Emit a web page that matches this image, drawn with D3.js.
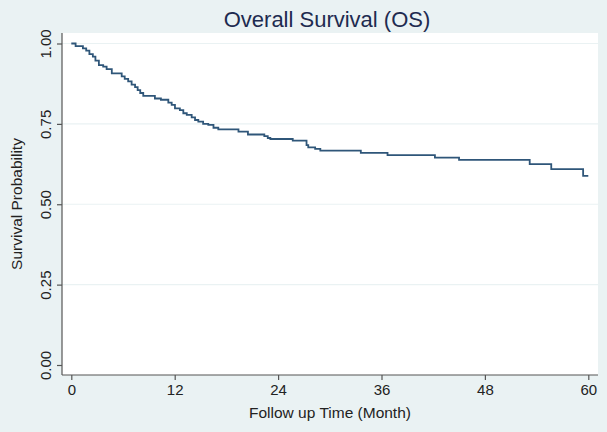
<!DOCTYPE html>
<html>
<head>
<meta charset="utf-8">
<script src="https://cdn.jsdelivr.net/npm/d3@7"></script>
<style>
  html, body { margin: 0; padding: 0; background: #eaf2f3; }
  svg { display: block; font-family: "Liberation Sans", Arial, sans-serif; }
</style>
</head>
<body>
<div id="chart"></div>
<script>
// Kaplan-Meier estimate (month, survival after the step)
var months = [0, 0.5, 1.35, 1.73, 2.1, 2.5, 2.8, 3.2, 3.7, 4.1, 4.7, 5.85, 6.2, 6.6, 7.0, 7.4, 7.7, 8.0, 8.35,
              9.7, 10.4, 11.26, 11.65, 12.03, 12.6, 13.0, 13.4, 13.97, 14.36, 14.74, 15.3, 15.9, 16.5, 17.06,
              19.4, 20.5, 22.4, 22.8, 23.1, 25.7, 27.3, 27.5, 28.3, 28.9, 33.6, 36.7, 42.2, 45.0, 53.2, 55.7, 59.4];
var survival = [1.000, 0.992, 0.985, 0.978, 0.967, 0.959, 0.947, 0.933, 0.928, 0.920, 0.907, 0.898, 0.890, 0.882, 0.872, 0.864, 0.855, 0.846, 0.837,
                0.829, 0.825, 0.816, 0.809, 0.798, 0.793, 0.783, 0.778, 0.770, 0.762, 0.757, 0.750, 0.747, 0.738, 0.733,
                0.726, 0.717, 0.712, 0.706, 0.703, 0.698, 0.684, 0.677, 0.672, 0.667, 0.660, 0.653, 0.645, 0.638, 0.625, 0.609, 0.588];
var lastMonth = 60;

var xTicks = [0, 12, 24, 36, 48, 60];
var yTicks = [0, 0.25, 0.5, 0.75, 1];
var yTickLabels = ["0.00", "0.25", "0.50", "0.75", "1.00"];

var w = 607, h = 432;
var plot = { left: 62, right: 598, top: 33, bottom: 375 };

var x = d3.scaleLinear().domain([0, 60]).range([71.3, 588.3]);
var y = d3.scaleLinear().domain([0, 1]).range([365, 43.5]);

var svg = d3.select("#chart").append("svg")
    .attr("width", w)
    .attr("height", h);

svg.append("rect").attr("width", w).attr("height", h).attr("fill", "#eaf2f3");

// plot region
svg.append("rect")
    .attr("x", plot.left).attr("y", plot.top)
    .attr("width", plot.right - plot.left).attr("height", plot.bottom - plot.top)
    .attr("fill", "#ffffff");

// grid lines
svg.append("g").selectAll("line")
    .data(yTicks.filter(function (d) { return d > 0; }))
    .enter().append("line")
    .attr("x1", plot.left).attr("x2", plot.right)
    .attr("y1", function (d) { return y(d); })
    .attr("y2", function (d) { return y(d); })
    .attr("stroke", "#eaf2f3")
    .attr("stroke-width", 1.2);

// y axis
var yAxis = d3.axisLeft(y)
    .tickValues(yTicks)
    .tickSize(5)
    .tickFormat(function (d, i) { return yTickLabels[i]; });

var gy = svg.append("g")
    .attr("transform", "translate(" + plot.left + ",0)")
    .call(yAxis);
gy.select(".domain").attr("d", "M0," + plot.top + "V" + plot.bottom);
gy.selectAll("text")
    .attr("transform", "translate(-11,0) rotate(-90)")
    .attr("x", 0).attr("y", 0).attr("dy", "0")
    .attr("text-anchor", "middle");

// x axis
var xAxis = d3.axisBottom(x)
    .tickValues(xTicks)
    .tickSize(5)
    .tickPadding(4);

var gx = svg.append("g")
    .attr("transform", "translate(0," + plot.bottom + ")")
    .call(xAxis);
gx.select(".domain").attr("d", "M" + plot.left + ",0H" + plot.right);

[gx, gy].forEach(function (g) {
    g.select(".domain").attr("stroke", "#555").attr("stroke-width", 1.2);
    g.selectAll(".tick line").attr("stroke", "#555").attr("stroke-width", 1.2);
    g.selectAll("text")
        .attr("fill", "#222")
        .style("font-size", "15px")
        .style("font-family", "'Liberation Sans', Arial, sans-serif");
});

// survival curve
var points = months.map(function (m, i) { return [m, survival[i]]; });
points.push([lastMonth, survival[survival.length - 1]]);

var line = d3.line()
    .x(function (d) { return x(d[0]); })
    .y(function (d) { return y(d[1]); })
    .curve(d3.curveStepAfter);

svg.append("path")
    .datum(points)
    .attr("fill", "none")
    .attr("stroke", "#2f5679")
    .attr("stroke-width", 1.8)
    .attr("d", line);

// titles
svg.append("text")
    .attr("x", 327).attr("y", 27)
    .attr("text-anchor", "middle")
    .attr("fill", "#1e2b50")
    .style("font-size", "22px")
    .text("Overall Survival (OS)");

svg.append("text")
    .attr("x", 330).attr("y", 418)
    .attr("text-anchor", "middle")
    .attr("fill", "#222")
    .style("font-size", "15.5px")
    .text("Follow up Time (Month)");

svg.append("text")
    .attr("transform", "translate(22,204) rotate(-90)")
    .attr("text-anchor", "middle")
    .attr("fill", "#222")
    .style("font-size", "15.5px")
    .text("Survival Probability");
</script>
</body>
</html>
